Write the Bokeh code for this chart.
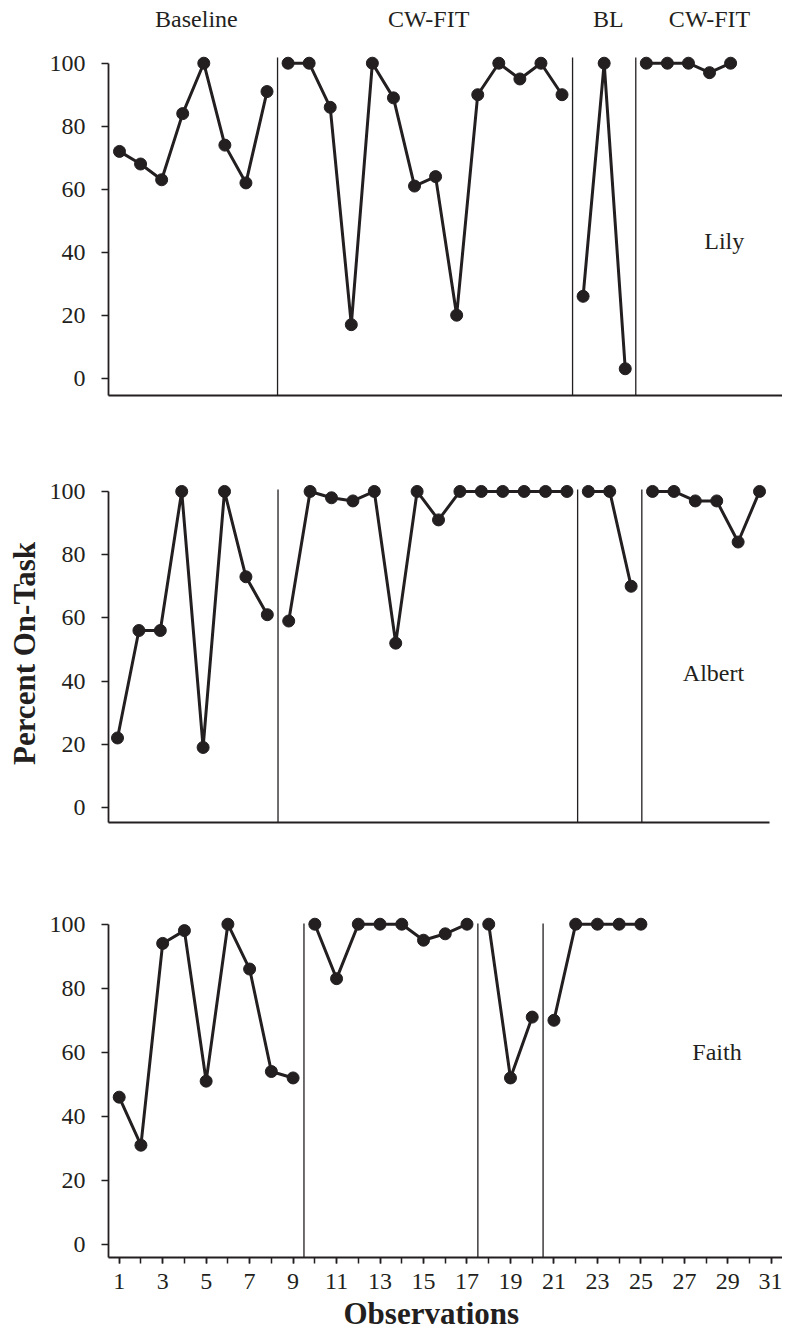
from bokeh.plotting import figure
from bokeh.layouts import column
from bokeh.models import FixedTicker, Range1d, Title
from bokeh.core.properties import value
from bokeh.embed import file_html
from bokeh.resources import INLINE

# ---------------- data ----------------
phase_names = ["Baseline", "CW-FIT", "BL", "CW-FIT"]
participants = ["Lily", "Albert", "Faith"]

lily_values = [72, 68, 63, 84, 100, 74, 62, 91,
               100, 100, 86, 17, 100, 89, 61, 64, 20, 90, 100, 95, 100, 90,
               26, 100, 3,
               100, 100, 100, 97, 100]
lily_phase_lengths = [8, 14, 3, 5]

albert_values = [22, 56, 56, 100, 19, 100, 73, 61,
                 59, 100, 98, 97, 100, 52, 100, 91, 100, 100, 100, 100, 100, 100,
                 100, 100, 70,
                 100, 100, 97, 97, 84, 100]
albert_phase_lengths = [8, 14, 3, 6]

faith_values = [46, 31, 94, 98, 51, 100, 86, 54, 52,
                100, 83, 100, 100, 100, 95, 97, 100,
                100, 52, 71,
                70, 100, 100, 100, 100]
faith_phase_lengths = [9, 8, 3, 5]

y_ticks = [0, 20, 40, 60, 80, 100]
x_tick_labels = list(range(1, 32, 2))
x_minor_ticks = list(range(1, 32))
y_axis_title = "Percent On-Task"
x_axis_title = "Observations"

# ---------------- style / layout ----------------
INK = "#231f20"
FONT = "Liberation Serif"
FRAME_W = 675
LEFT = 107
TICK_FS = "24px"
TITLE_FS = "31px"

panels = [
    dict(name="Lily", values=lily_values, lengths=lily_phase_lengths,
         xr=(0.478, 32.51), yr=(-5.49, 117.37), fh=387, mbt=8, mbb=10,
         xend=32.51, ptop=101.8, name_xy=(29.7, 43.7),
         label_x=[4.65, 15.67, 24.2, 29.0], label_y=113.9),
    dict(name="Albert", values=albert_values, lengths=albert_phase_lengths,
         xr=(0.579, 32.12), yr=(-4.75, 102.2), fh=338, mbt=79, mbb=10,
         xend=31.47, ptop=100.6, name_xy=(28.85, 42.7)),
    dict(name="Faith", values=faith_values, lengths=faith_phase_lengths,
         xr=(0.508, 31.56), yr=(-4.06, 107.4), fh=357, mbt=68, mbb=76,
         xend=31.56, ptop=100.2, name_xy=(28.5, 60.0)),
]

figs = []
for i, pn in enumerate(panels):
    p = figure(frame_width=FRAME_W, frame_height=pn["fh"],
               x_range=Range1d(*pn["xr"]), y_range=Range1d(*pn["yr"]),
               output_backend="svg", toolbar_location=None,
               min_border_left=LEFT, min_border_right=0,
               min_border_top=pn["mbt"], min_border_bottom=pn["mbb"])
    p.outline_line_color = None
    p.xgrid.visible = False
    p.ygrid.visible = False
    p.background_fill_color = "white"
    p.border_fill_color = "white"

    # y axis
    ya = p.yaxis[0]
    ya.ticker = FixedTicker(ticks=y_ticks)
    ya.bounds = (pn["yr"][0], 100)
    ya.axis_line_color = INK
    ya.axis_line_width = 1.8
    ya.major_tick_line_color = INK
    ya.major_tick_line_width = 1.5
    ya.major_tick_out = 7
    ya.major_tick_in = 0
    ya.minor_tick_line_color = None
    ya.major_label_standoff = 16
    ya.major_label_text_font = FONT
    ya.major_label_text_font_size = TICK_FS
    ya.major_label_text_color = INK
    if i == 1:
        p.add_layout(Title(text=y_axis_title, align="center",
                           standoff=9, text_font=FONT, text_font_style="bold",
                           text_font_size=TITLE_FS, text_color=INK), "left")

    # x axis
    xa = p.xaxis[0]
    xa.axis_line_color = INK
    xa.axis_line_width = 1.8
    xa.bounds = (pn["xr"][0], pn["xend"])
    if i < 2:
        xa.ticker = FixedTicker(ticks=[])
        xa.major_tick_out = 0
        xa.major_tick_in = 0
        xa.minor_tick_out = 0
        xa.minor_tick_in = 0
        xa.major_tick_line_color = None
        xa.minor_tick_line_color = None
    else:
        xa.ticker = FixedTicker(ticks=x_tick_labels, minor_ticks=x_minor_ticks)
        xa.major_tick_out = 6
        xa.major_tick_in = 0
        xa.minor_tick_out = 6
        xa.minor_tick_in = 0
        xa.major_tick_line_color = INK
        xa.minor_tick_line_color = INK
        xa.major_tick_line_width = 1.5
        xa.minor_tick_line_width = 1.5
        xa.major_label_standoff = 10
        xa.major_label_text_font = FONT
        xa.major_label_text_font_size = TICK_FS
        xa.major_label_text_color = INK
        p.add_layout(Title(text=x_axis_title, align="left", offset=235,
                           standoff=4, text_font=FONT, text_font_style="bold",
                           text_font_size=TITLE_FS, text_color=INK), "below")

    # phase lines (between phases)
    vals = pn["values"]
    lengths = pn["lengths"]
    bounds_x = []
    cum = 0
    for L in lengths[:-1]:
        cum += L
        bounds_x.append(cum + 0.5)
    p.segment(x0=bounds_x, y0=[pn["yr"][0]] * len(bounds_x),
              x1=bounds_x, y1=[pn["ptop"]] * len(bounds_x),
              line_color=INK, line_width=1.3)

    # data lines per phase
    xs, ys = [], []
    start = 0
    for L in lengths:
        xs.append([start + k + 1 for k in range(L)])
        ys.append(vals[start:start + L])
        start += L
    p.multi_line(xs=xs, ys=ys, line_color=INK, line_width=3)
    p.scatter(x=list(range(1, len(vals) + 1)), y=vals, size=12,
              fill_color=INK, line_color=INK)

    # participant name
    p.text(x=[pn["name_xy"][0]], y=[pn["name_xy"][1]], text=[pn["name"]],
           text_font=value(FONT), text_font_size=TICK_FS, text_color=INK,
           text_align="center", text_baseline="middle")

    # phase titles on top panel
    if i == 0:
        p.text(x=pn["label_x"], y=[pn["label_y"]] * len(phase_names),
               text=phase_names, text_font=value(FONT), text_font_size=TICK_FS,
               text_color=INK, text_align="center", text_baseline="middle")

    figs.append(p)

layout = column(*figs, spacing=0)
open("out.html", "w").write(file_html(layout, INLINE))
